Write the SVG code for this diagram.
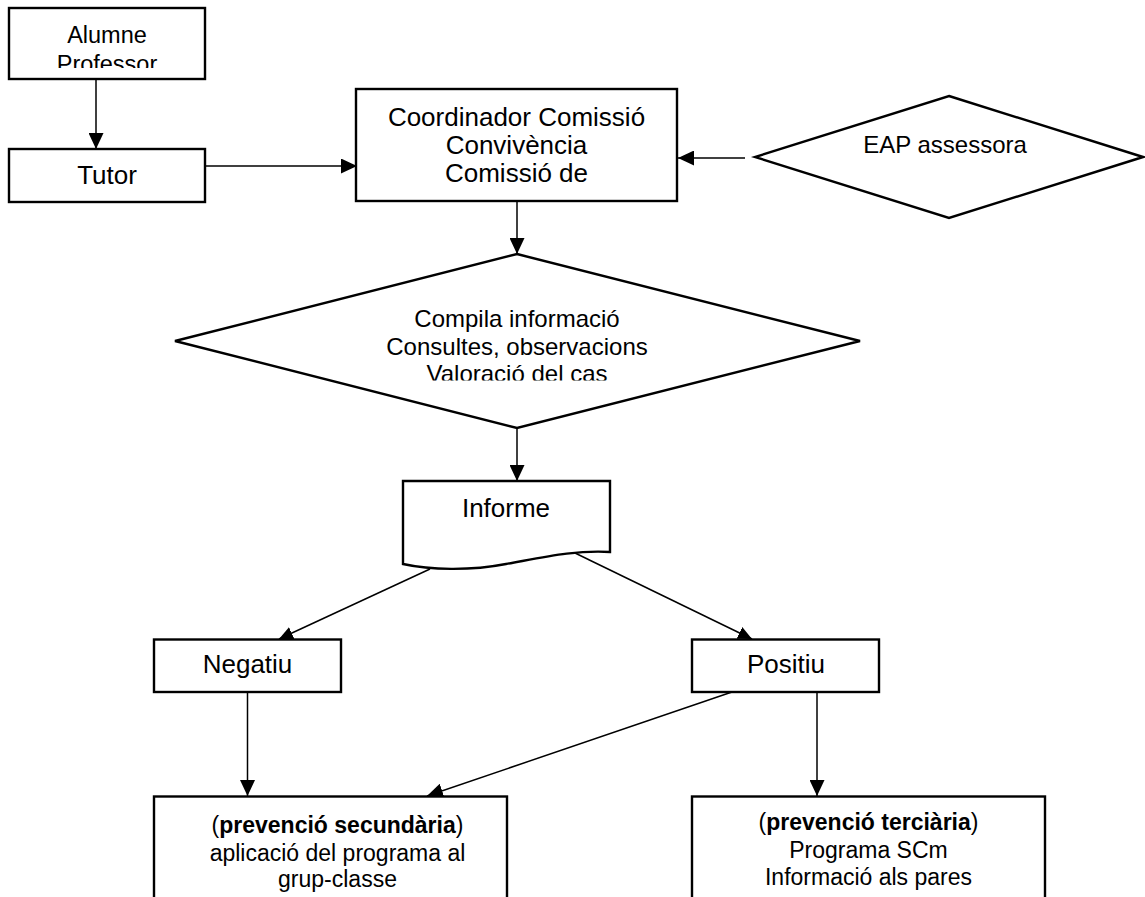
<svg xmlns="http://www.w3.org/2000/svg" width="1145" height="897" viewBox="0 0 1145 897">
<style>
.box{fill:#fff;stroke:#000;stroke-width:2.4}
.con{fill:none;stroke:#000;stroke-width:1.5}
text{font-family:"Liberation Sans",Arial,sans-serif;fill:#000;text-anchor:middle}
.t26{font-size:26px}
.t24{font-size:24px}
.t23{font-size:23px}
.t235{font-size:23.5px}
.b{font-weight:bold}
</style>
<defs>
<marker id="ah" markerUnits="userSpaceOnUse" viewBox="0 0 16 15" refX="16" refY="7.5" markerWidth="16" markerHeight="15" orient="auto">
<path d="M0,0 L16,7.5 L0,15 Z" fill="#000"/>
</marker>
<marker id="ahs" markerUnits="userSpaceOnUse" viewBox="0 0 14 13" refX="14" refY="6.5" markerWidth="14" markerHeight="13" orient="auto">
<path d="M0,0 L14,6.5 L0,13 Z" fill="#000"/>
</marker>
<clipPath id="clipAlumne"><rect x="9" y="8" width="196" height="60"/></clipPath>
<clipPath id="clipDiamond"><rect x="175" y="254" width="685" height="126.5"/></clipPath>
</defs>

<g id="connectors">
<path class="con" d="M96,79 V149" marker-end="url(#ah)"/>
<path class="con" d="M205,166 H357" marker-end="url(#ah)"/>
<path class="con" d="M745,158 H678" marker-end="url(#ah)"/>
<path class="con" d="M517,201 V254" marker-end="url(#ah)"/>
<path class="con" d="M517,428 V481" marker-end="url(#ah)"/>
<path class="con" d="M430,569 L279,639" marker-end="url(#ahs)"/>
<path class="con" d="M575,553 L752,639" marker-end="url(#ahs)"/>
<path class="con" d="M247.5,692 V796" marker-end="url(#ah)"/>
<path class="con" d="M732,692 L427,796" marker-end="url(#ah)"/>
<path class="con" d="M817,692 V796" marker-end="url(#ah)"/>
</g>

<g id="alumne">
<rect class="box" x="9" y="8" width="196" height="71"/>
<g clip-path="url(#clipAlumne)">
<text class="t235" x="107" y="43">Alumne</text>
<text class="t235" x="107" y="72">Professor</text>
</g>
</g>

<g id="tutor">
<rect class="box" x="9" y="149" width="196" height="53"/>
<text class="t26" x="107" y="184">Tutor</text>
</g>

<g id="coordinador">
<rect class="box" x="356" y="89" width="321" height="112"/>
<text class="t26" x="516.5" y="126">Coordinador Comissió</text>
<text class="t26" x="516.5" y="154">Convivència</text>
<text class="t26" x="516.5" y="182">Comissió de</text>
</g>

<g id="eap">
<path class="box" d="M949,96 L1143,157 L949,218 L755,157 Z"/>
<text class="t24" x="945" y="153">EAP assessora</text>
</g>

<g id="compila">
<path class="box" d="M517,254 L860,341 L517,428 L175,341 Z"/>
<g clip-path="url(#clipDiamond)">
<text class="t24" x="517" y="327">Compila informació</text>
<text class="t24" x="517" y="354.5">Consultes, observacions</text>
<text class="t24" x="517" y="382">Valoració del cas</text>
</g>
</g>

<g id="informe">
<path class="box" d="M403,481 H610 V552 C575,550 545,557 506,564 C470,571 430,570 403,564 Z"/>
<text class="t26" x="506" y="517">Informe</text>
</g>

<g id="negatiu">
<rect class="box" x="154" y="639.5" width="187" height="52.5"/>
<text class="t26" x="247.5" y="673">Negatiu</text>
</g>

<g id="positiu">
<rect class="box" x="692" y="639.5" width="187" height="52.5"/>
<text class="t26" x="786" y="673">Positiu</text>
</g>

<g id="secundaria">
<rect class="box" x="154" y="796.5" width="353" height="120"/>
<text class="t23" x="337.5" y="833">(<tspan class="b">prevenció secundària</tspan>)</text>
<text class="t23" x="337.5" y="861">aplicació del programa al</text>
<text class="t23" x="337.5" y="887">grup-classe</text>
</g>

<g id="terciaria">
<rect class="box" x="692" y="796.5" width="353" height="120"/>
<text class="t23" x="868.5" y="830">(<tspan class="b">prevenció terciària</tspan>)</text>
<text class="t23" x="868.5" y="858">Programa SCm</text>
<text class="t23" x="868.5" y="885">Informació als pares</text>
</g>
</svg>
